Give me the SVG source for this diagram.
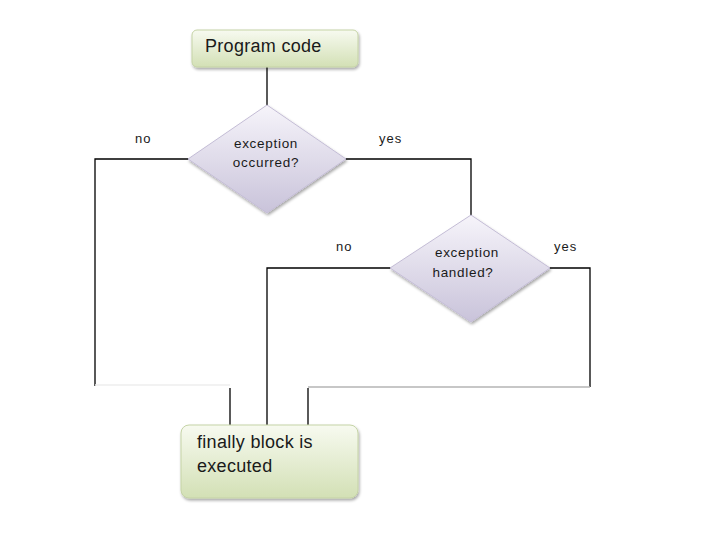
<svg xmlns="http://www.w3.org/2000/svg" width="720" height="540" viewBox="0 0 720 540">
<defs>
<linearGradient id="gGreen" x1="0" y1="0" x2="0" y2="1">
<stop offset="0" stop-color="#f7faf0"/>
<stop offset="1" stop-color="#d3e0b5"/>
</linearGradient>
<linearGradient id="gPurple" x1="0" y1="0" x2="0" y2="1">
<stop offset="0" stop-color="#f6f4fa"/>
<stop offset="1" stop-color="#c9c3da"/>
</linearGradient>
<filter id="sh" x="-10%" y="-10%" width="130%" height="130%">
<feGaussianBlur in="SourceAlpha" stdDeviation="1.5"/>
<feOffset dx="1" dy="2" result="b"/>
<feComponentTransfer><feFuncA type="linear" slope="0.35"/></feComponentTransfer>
<feMerge><feMergeNode/><feMergeNode in="SourceGraphic"/></feMerge>
</filter>
</defs>
<style>
.box{fill:url(#gGreen);stroke:#c5d3a6;stroke-width:1;filter:url(#sh)}
.dia{fill:url(#gPurple);stroke:#c4bdd6;stroke-width:1;filter:url(#sh)}
.ln{fill:none;stroke:#000;stroke-width:1.3}
.lnf{fill:none;stroke:#eeeeee;stroke-width:1.3}
.lng{fill:none;stroke:#b4b4b4;stroke-width:1.3}
.t{font-family:"Liberation Sans",Arial,sans-serif;fill:#1a1a1a}
.tb{font-size:18px;letter-spacing:0.3px}
.td{font-size:13.5px;letter-spacing:0.7px}
.tl{font-size:13px;letter-spacing:1px}
</style>
<rect width="720" height="540" fill="#fff"/>
<g id="connectors">
<path class="ln" d="M267,67 V106"/>
<path class="ln" d="M189,159 H95 V386"/>
<path class="lnf" d="M95,385 H230"/>
<path class="ln" d="M230,388 V425"/>
<path class="ln" d="M345,159 H471 V216"/>
<path class="ln" d="M391,268 H267 V425"/>
<path class="ln" d="M549,268 H590 V387"/>
<path class="lng" d="M590,387 H308"/>
<path class="ln" d="M308,388 V425"/>
</g>
<g id="labels">
<text class="t tl" x="135" y="143">no</text>
<text class="t tl" x="379" y="143">yes</text>
<text class="t tl" x="336" y="251">no</text>
<text class="t tl" x="554" y="251">yes</text>
</g>
<g id="program-code">
<rect class="box" x="192" y="30" width="166" height="37" rx="5"/>
<text class="t tb" x="205" y="52">Program code</text>
</g>
<g id="exception-occurred">
<polygon class="dia" points="267,105 346,159 267,213 188,159"/>
<text class="t td" x="266" y="148" text-anchor="middle">exception</text>
<text class="t td" x="266" y="167" text-anchor="middle">occurred?</text>
</g>
<g id="exception-handled">
<polygon class="dia" points="471,215 550,268 471,322 390,268"/>
<text class="t td" x="467" y="257" text-anchor="middle">exception</text>
<text class="t td" x="463" y="277" text-anchor="middle">handled?</text>
</g>
<g id="finally-block">
<rect class="box" x="181" y="425" width="177" height="73" rx="8"/>
<text class="t tb" x="197" y="448">finally block is</text>
<text class="t tb" x="197" y="472">executed</text>
</g>
</svg>
